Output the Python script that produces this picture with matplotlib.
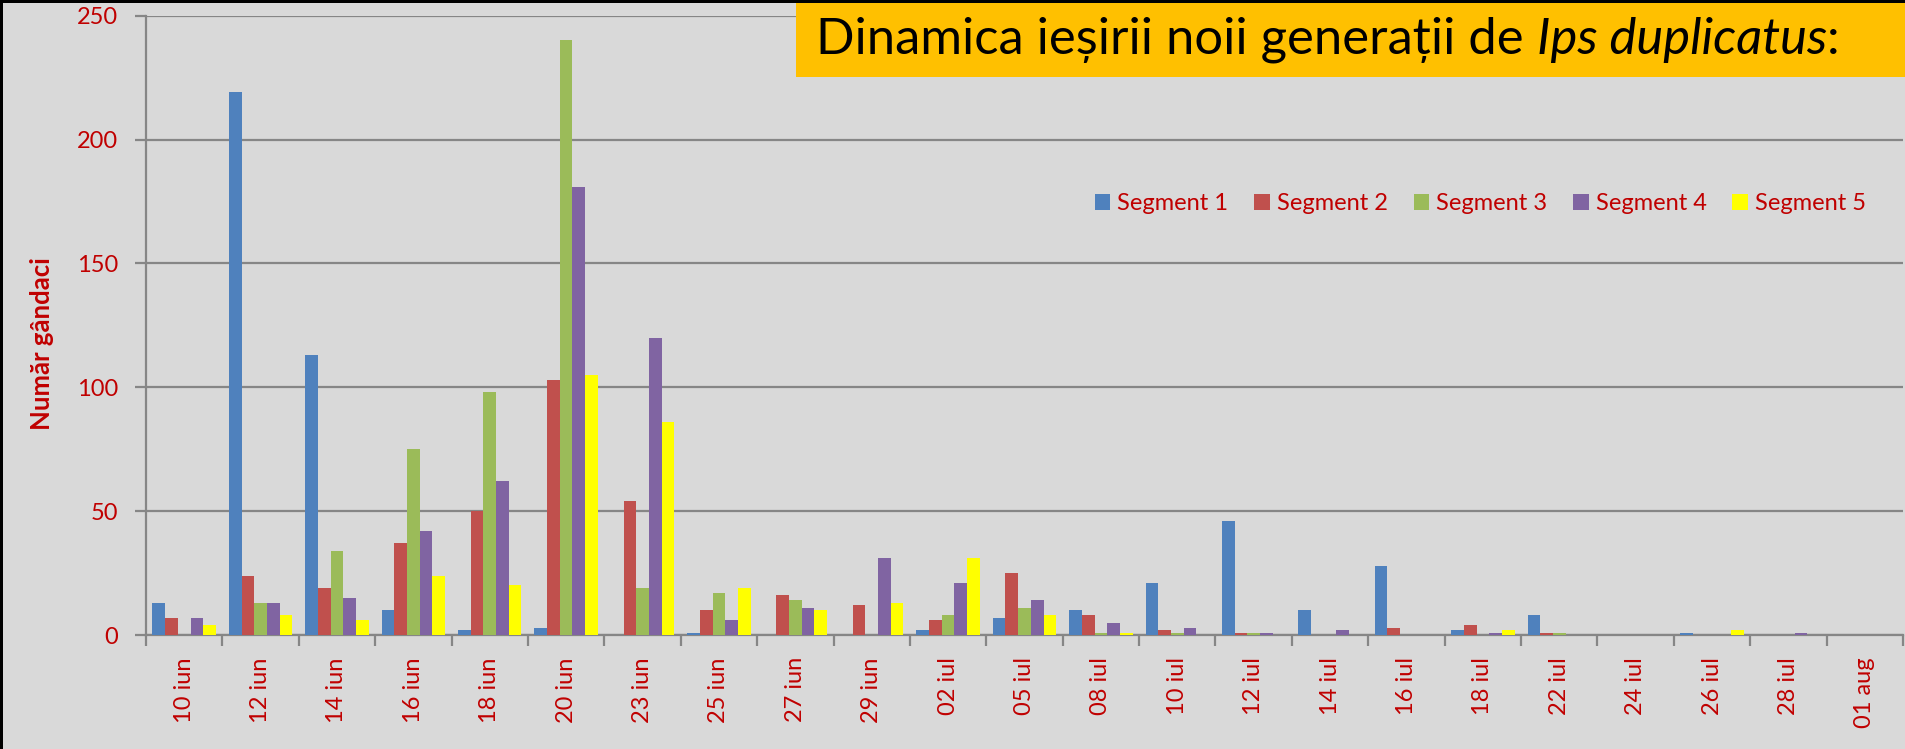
import matplotlib.pyplot as plt
import numpy as np
from matplotlib.patches import Rectangle

plt.rcParams['font.family'] = ['Lato', 'DejaVu Sans']

# data
dates = ["10 iun", "12 iun", "14 iun", "16 iun", "18 iun", "20 iun", "23 iun",
         "25 iun", "27 iun", "29 iun", "02 iul", "05 iul", "08 iul", "10 iul",
         "12 iul", "14 iul", "16 iul", "18 iul", "22 iul", "24 iul", "26 iul",
         "28 iul", "01 aug"]
seg1 = [13, 219, 113, 10, 2, 3, 0, 1, 0, 0, 2, 7, 10, 21, 46, 10, 28, 2, 8, 0, 1, 0, 0]
seg2 = [7, 24, 19, 37, 50, 103, 54, 10, 16, 12, 6, 25, 8, 2, 1, 0, 3, 4, 1, 0, 0, 0, 0]
seg3 = [0, 13, 34, 75, 98, 240, 19, 17, 14, 0, 8, 11, 1, 1, 1, 0, 0, 0, 1, 0, 0, 0, 0]
seg4 = [7, 13, 15, 42, 62, 181, 120, 6, 11, 31, 21, 14, 5, 3, 1, 2, 0, 1, 0, 0, 0, 1, 0]
seg5 = [4, 8, 6, 24, 20, 105, 86, 19, 10, 13, 31, 8, 1, 0, 0, 0, 0, 2, 0, 0, 2, 0, 0]
series_names = ["Segment 1", "Segment 2", "Segment 3", "Segment 4", "Segment 5"]

colors = ["#4F81BD", "#C0504D", "#9BBB59", "#8064A2", "#FFFF00"]
RED = "#C00000"
GRID = "#868686"
BG = "#D9D9D9"

W, H = 1905, 749
fig = plt.figure(figsize=(W / 100, H / 100), dpi=100, facecolor=BG)
ax = fig.add_axes([146 / W, 1 - 635 / H, 1757 / W, (635 - 15.7) / H])
ax.set_facecolor(BG)

x = np.arange(len(dates))
bw = 0.166
handles = []
for k, (vals, c) in enumerate(zip([seg1, seg2, seg3, seg4, seg5], colors)):
    ax.bar(x + (k - 2) * bw, vals, width=bw, color=c, linewidth=0, zorder=3)
    handles.append(Rectangle((0, 0), 1, 1, facecolor=c, edgecolor="none"))

ax.set_xlim(-0.5, len(dates) - 0.5)
ax.set_ylim(0, 250)
ax.set_yticks([0, 50, 100, 150, 200, 250])
ax.yaxis.grid(True, color=GRID, lw=1.6, zorder=0)
ax.set_axisbelow(True)

ax.set_xticks(np.arange(len(dates) + 1) - 0.5)
ax.set_xticklabels([])
ax.set_xticks(x, minor=True)
ax.set_xticklabels(dates, minor=True, rotation=90, color=RED, fontsize=17,
                   va="top", ha="center")
ax.tick_params(axis="x", which="major", length=8, width=1.6, color=GRID, direction="out")
ax.tick_params(axis="x", which="minor", length=0, pad=16)
ax.tick_params(axis="y", length=8, width=1.6, color=GRID, labelcolor=RED,
               labelsize=17, pad=12)

for s in ["top", "right"]:
    ax.spines[s].set_visible(False)
for s in ["left", "bottom"]:
    ax.spines[s].set_color(GRID)
    ax.spines[s].set_linewidth(1.6)

ax.set_ylabel("Număr gândaci", color=RED, fontsize=18.5, fontweight="bold")
ax.yaxis.set_label_coords(-0.0525, 0.47)

leg = fig.legend(handles, series_names, loc="center left",
                 bbox_to_anchor=(1095 / W, 1 - 204 / H), ncol=5, frameon=False,
                 fontsize=17, handlelength=0.65, handleheight=0.65,
                 handletextpad=0.3, columnspacing=1.1, borderpad=0,
                 borderaxespad=0)
for t in leg.get_texts():
    t.set_color(RED)

# title box
fig.patches.append(Rectangle((796 / W, 1 - 77 / H), 1 - 796 / W, 74 / H,
                             transform=fig.transFigure, facecolor="#FFC000",
                             edgecolor="none", zorder=5))
# dark frame on top and left
fig.patches.append(Rectangle((0, 1 - 3 / H), 1, 3 / H, transform=fig.transFigure,
                             facecolor="black", edgecolor="none", zorder=6))
fig.patches.append(Rectangle((0, 0), 3 / W, 1, transform=fig.transFigure,
                             facecolor="black", edgecolor="none", zorder=6))

renderer = fig.canvas.get_renderer()
parts = [("Dinamica ieșirii noii generații de ", "normal"),
         ("Ips duplicatus", "italic"),
         (":", "normal")]
xpos = 816 / W
ty = 1 - 40 / H
for txt, style in parts:
    t = fig.text(xpos, ty, txt, fontsize=36.5, style=style, color="black",
                 va="center", ha="left", zorder=7)
    bb = t.get_window_extent(renderer=renderer)
    xpos += bb.width / W

fig.savefig("out.png", dpi=100, facecolor=BG)
